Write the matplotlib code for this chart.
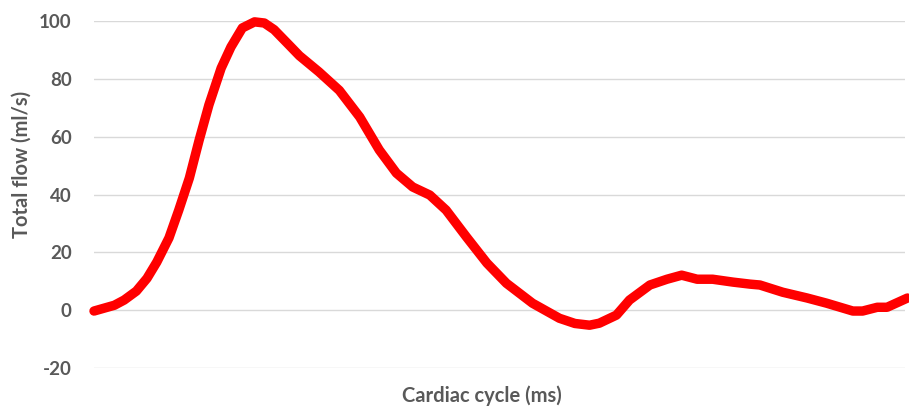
import matplotlib.pyplot as plt

plt.rcParams['axes.unicode_minus'] = False

# cardiac cycle time (ms) and total flow (ml/s)
time_ms = [0, 25, 37, 52, 65, 77, 92, 104, 117, 129, 141, 156, 168, 182, 197,
           209, 221, 240, 252, 276, 301, 326, 350, 371, 391, 412, 432, 457,
           482, 506, 538, 571, 590, 608, 620, 641, 657, 682, 703, 721, 740,
           759, 784, 805, 817, 845, 875, 899, 931, 943, 961, 973, 998]
flow = [-0.3, 1.7, 3.5, 6.6, 11, 16.6, 25, 34.6, 45.7, 58.8, 71, 83.7, 91,
        97.6, 99.7, 99.3, 97, 91.5, 88, 82.4, 76, 66.8, 55.4, 47.4, 42.6,
        39.8, 34.6, 25.3, 16.3, 9.3, 2.4, -2.8, -4.6, -5.2, -4.5, -1.7, 3.5,
        8.7, 10.7, 12.1, 10.7, 10.7, 9.7, 9.0, 8.7, 6.2, 4.2, 2.4, -0.3,
        -0.3, 1.0, 1.0, 4.2]
y_ticks = [-20, 0, 20, 40, 60, 80, 100]

W, H = 909, 409
fig = plt.figure(figsize=(W / 100, H / 100), dpi=100)
ax = fig.add_axes([94 / W, 1 - 368 / H, (905 - 94) / W, (368 - 21) / H])

ax.plot(time_ms, flow, color='#ff0000', lw=6.8, solid_joinstyle='round',
        solid_capstyle='round', clip_on=False, zorder=3)

ax.set_xlim(0, 995)
ax.set_ylim(-20, 100)
ax.set_yticks(y_ticks)
ax.set_xticks([])
ax.grid(axis='y', color='#d9d9d9', lw=1)
ax.tick_params(axis='y', length=0, pad=16, labelsize=13.5, labelcolor='#595959')
for lbl in ax.get_yticklabels():
    lbl.set_fontweight('bold')
    lbl.set_family('Lato')
for s in ax.spines.values():
    s.set_visible(False)

fig.text(482 / W, 1 - 396 / H, 'Cardiac cycle (ms)', ha='center', va='center',
         fontsize=14.5, fontweight='bold', color='#595959', family='Lato')
fig.text(22 / W, 1 - 164 / H, 'Total flow (ml/s)', ha='center', va='center',
         rotation=90, fontsize=14.5, fontweight='bold', color='#595959',
         family='Lato')

fig.savefig('out.png', dpi=100)
